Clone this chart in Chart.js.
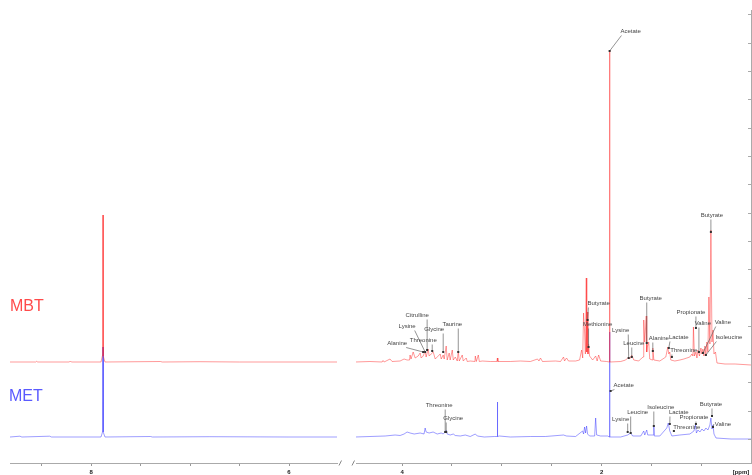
<!DOCTYPE html>
<html lang="en">
<head>
<meta charset="UTF-8" />
<title>1H NMR spectra - MBT / MET</title>
<script src="https://cdn.jsdelivr.net/npm/chart.js"></script>
<style>
  body { margin: 0; background: #fff; }
  #wrap { position: relative; width: 752px; height: 475px; }
  #wrap canvas { position: absolute; left: 0; top: 0; }
</style>
</head>
<body>
<div id="wrap">
  <canvas id="left-panel" width="752" height="475"></canvas>
  <canvas id="right-panel" width="752" height="475"></canvas>
</div>
<script>
// chemical shift (ppm) and intensity above baseline
const mbtPpm = [
  8.82, 8.56, 8.55, 8.54, 8.22, 8.21, 8.2, 7.9, 7.882, 7.88, 7.878, 7.86, 7.3, 7.28, 6.9, 6.5, 5.5,
  4.472, 4.322, 4.2, 4.191, 4.18, 4.121, 4.1, 4.02, 3.98, 3.95, 3.925, 3.92, 3.91, 3.889, 3.869,
  3.839, 3.819, 3.809, 3.789, 3.769, 3.759, 3.739, 3.729, 3.709, 3.688, 3.668, 3.648, 3.618, 3.608,
  3.588, 3.578, 3.558, 3.548, 3.528, 3.518, 3.497, 3.487, 3.467, 3.447, 3.437, 3.427, 3.397, 3.387,
  3.357, 3.347, 3.317, 3.27, 3.266, 3.256, 3.236, 3.226, 3.196, 3.116, 3.05, 3.045, 3.04, 2.915,
  2.814, 2.714, 2.643, 2.628, 2.613, 2.593, 2.462, 2.412, 2.382, 2.372, 2.352, 2.332, 2.261, 2.221,
  2.201, 2.19, 2.181, 2.171, 2.163, 2.154, 2.149, 2.144, 2.137, 2.131, 2.121, 2.09, 2.06, 2.045,
  2.03, 2.01, 1.95, 1.922, 1.92, 1.918, 1.809, 1.759, 1.729, 1.719, 1.698, 1.678, 1.628, 1.598,
  1.583, 1.578, 1.568, 1.553, 1.548, 1.543, 1.528, 1.518, 1.492, 1.487, 1.477, 1.417, 1.357, 1.337,
  1.327, 1.317, 1.307, 1.266, 1.216, 1.176, 1.146, 1.116, 1.095, 1.085, 1.08, 1.07, 1.055, 1.045,
  1.035, 1.02, 1.005, 0.995, 0.985, 0.975, 0.965, 0.955, 0.945, 0.935, 0.925, 0.915, 0.905, 0.894,
  0.884, 0.874, 0.859, 0.844, 0.764, 0.663, 0.503
];
const mbtIntensity = [
  0, 0, 0.7, 0, 0, 1, 0, 0, 8, 147, 6, 0, 0.5, 0, 0.3, 0, 0,
  0, 0.5, 0, 1.5, 0, 3, 0.5, 1, 3, 2, 2, 7, 3, 10, 4,
  6, 9, 4, 6, 11, 5, 13, 6, 8, 10, 3, 5, 8, 3,
  7, 3, 16, 2, 9, 2, 12, 2, 5, 1, 11, 1, 7, 1,
  4, 0.5, 1, 0.5, 6, 0.5, 7, 0.5, 1, 0.5, 0.5, 4, 0.5, 0.5,
  1, 0.5, 3, 1, 4, 0.5, 1, 0.5, 5, 1, 4, 1, 1, 2,
  12, 4, 49, 30, 8, 84, 10, 50, 8, 18, 6, 2, 6, 1,
  7, 1, 0.5, 0, 312, 0, 0.5, 2, 5, 3, 7, 2, 1, 4,
  5, 42, 20, 46, 10, 15, 20, 3, 2, 14, 2, 1, 5, 15,
  8, 10, 2, 1, 2, 3, 4, 5, 8, 6, 35, 6, 10, 4,
  12, 6, 14, 8, 13, 6, 16, 8, 20, 10, 65, 18, 132, 20,
  32, 8, 10, -1, -2, -2, -3
];

const metPpm = [
  8.82, 8.72, 8.7, 8.42, 8.4, 7.9, 7.882, 7.88, 7.878, 7.86, 7.4, 7.38, 6.8, 6.0, 5.5,
  4.472, 4.322, 4.17, 4.07, 4.02, 3.98, 3.95, 3.92, 3.879, 3.819, 3.78, 3.769, 3.759, 3.729,
  3.689, 3.648, 3.608, 3.588, 3.568, 3.558, 3.548, 3.518, 3.487, 3.467, 3.417, 3.367, 3.317,
  3.266, 3.246, 3.176, 3.076, 3.048, 3.045, 3.042, 3.025, 2.915, 2.714, 2.563, 2.382, 2.352,
  2.261, 2.191, 2.181, 2.171, 2.161, 2.151, 2.141, 2.121, 2.07, 2.06, 2.05, 2.01, 1.94, 1.922,
  1.92, 1.918, 1.809, 1.739, 1.709, 1.689, 1.608, 1.578, 1.568, 1.548, 1.538, 1.482, 1.477,
  1.472, 1.417, 1.347, 1.332, 1.317, 1.296, 1.216, 1.116, 1.075, 1.06, 1.05, 1.035, 1.015,
  0.995, 0.975, 0.955, 0.935, 0.915, 0.905, 0.894, 0.884, 0.874, 0.854, 0.703, 0.503
];
const metIntensity = [
  0, 0.8, 0, 0.8, 0, 0, 6, 90, 5, 0, 0.5, 0, 0.3, 0, 0,
  0, 0.5, 1, 2, 1.5, 3, 5, 4, 3, 4, 3, 9, 5, 4,
  5, 3, 4, 3, 5, 7, 3, 2, 3, 1.5, 1, 2, 0.5,
  3, 1, 0, 0.5, 0.5, 35, 0.5, 1, 0, 0.5, 0.5, 2, 1,
  0.5, 6, 3, 10, 4, 11, 3, 1, 1, 19, 2, 1, 1, 0,
  105, 0, 0, 2, 4, 1, 1, 6, 2, 7, 2, 2, 11,
  1, 1, 9, 14, 6, 1, 2, 3, 6, 12, 4, 7, 5,
  8, 6, 9, 7, 12, 19, 8, 12, 3, -1, -2, -2
];

// stacked display: baseline level of each spectrum
const mbtBaseline = 77;
const metBaseline = 2;

// assigned metabolites: name, shift, level pointed at
const mbtPeakNames = ['Acetate', 'Butyrate', 'Citrulline', 'Lysine', 'Glycine', 'Taurine', 'Threonine',
  'Alanine', 'Butyrate', 'Methionine', 'Lysine', 'Leucine', 'Butyrate', 'Alanine', 'Lactate',
  'Threonine', 'Propionate', 'Valine', 'Valine', 'Isoleucine'];
const mbtPeakPpm = [1.92, 0.905, 3.749, 3.769, 3.588, 3.437, 3.698, 3.789, 2.141, 2.131, 1.729, 1.698,
  1.548, 1.487, 1.327, 1.296, 1.055, 1.025, 0.985, 0.955];
const mbtPeakLevel = [388, 207, 89, 87, 87, 87, 88, 87, 119, 92, 81, 82, 96, 88, 91, 82, 111, 87, 86, 84];

const metPeakNames = ['Threonine', 'Glycine', 'Acetate', 'Lysine', 'Leucine', 'Isoleucine', 'Lactate',
  'Threonine', 'Propionate', 'Butyrate', 'Valine'];
const metPeakPpm = [3.568, 3.558, 1.91, 1.739, 1.709, 1.477, 1.317, 1.276, 1.055, 0.894, 0.884];
const metPeakLevel = [7, 7, 48, 7, 6, 13, 15, 8, 15, 23, 12];

// label placement relative to the peak (px)
const mbtLabelOffset = [[21, -20], [1, -17], [-10, -35], [-18, -26], [-9, -23], [-6, -28], [-9, -11],
  [-26, -9], [11, -17], [9, -23], [-8, -28], [2, -14], [4, -45], [6, -13], [10, -11], [12, -7],
  [-5, -16], [4, -29], [20, -31], [23, -18]];
const metLabelOffset = [[-6, -27], [7, -14], [13, -6], [-7, -13], [7, -21], [7, -19], [9, -12],
  [13, -4], [-2, -7], [-1, -12], [10, -3]];

const yMin = -24, yMax = 429, yTickStep = 28.3;
const FONT = '"Liberation Sans", Arial, sans-serif';
Chart.defaults.font.family = FONT;

function series(ppm, intensity, base) {
  return ppm.map((p, i) => ({ x: p, y: base + intensity[i] }));
}

function datasets() {
  return [
    { label: 'MBT', data: series(mbtPpm, mbtIntensity, mbtBaseline),
      borderColor: 'rgba(255, 30, 30, 0.45)', borderWidth: 1, borderJoinStyle: 'bevel',
      pointRadius: 0, tension: 0 },
    { label: 'MET', data: series(metPpm, metIntensity, metBaseline),
      borderColor: 'rgba(40, 40, 255, 0.45)', borderWidth: 1, borderJoinStyle: 'bevel',
      pointRadius: 0, tension: 0 }
  ];
}

function xScale(min, max) {
  return {
    type: 'linear', reverse: true, min: min, max: max,
    afterFit: (s) => { s.height = 12; },
    grid: { drawOnChartArea: false, drawTicks: true, tickLength: 3, color: '#999' },
    border: { display: true, color: '#aaa' },
    ticks: {
      stepSize: 0.5, includeBounds: false, autoSkip: false, maxRotation: 0, padding: 3,
      color: '#222', font: { size: 6, weight: 'bold' },
      callback: (v) => (v % 2 === 0 ? String(v) : '')
    }
  };
}

function baseOptions(padding, xmin, xmax) {
  return {
    responsive: false, animation: false, devicePixelRatio: 1,
    layout: { padding: padding },
    plugins: { legend: { display: false }, tooltip: { enabled: false } },
    scales: {
      x: xScale(xmin, xmax),
      y: { display: false, min: yMin, max: yMax }
    }
  };
}

function drawPeakLabels(ctx, xs, ys, names, ppm, level, offsets) {
  ctx.font = '6px ' + FONT;
  ctx.textAlign = 'center';
  ctx.textBaseline = 'middle';
  names.forEach((name, i) => {
    const tx = xs.getPixelForValue(ppm[i]);
    const ty = ys.getPixelForValue(level[i]);
    const lx = tx + offsets[i][0], ly = ty + offsets[i][1];
    const w = ctx.measureText(name).width;
    const left = lx - w / 2, right = lx + w / 2, top = ly - 3.5, bottom = ly + 3.5;
    let sx, sy;
    if (ty > bottom) { sx = Math.min(Math.max(tx, left + 1), right - 1); sy = bottom + 1; }
    else if (ty < top) { sx = Math.min(Math.max(tx, left + 1), right - 1); sy = top - 1; }
    else { sx = tx < lx ? left - 1 : right + 1; sy = ly; }
    ctx.strokeStyle = '#666';
    ctx.lineWidth = 0.7;
    ctx.beginPath();
    ctx.moveTo(sx, sy);
    ctx.lineTo(tx, ty);
    ctx.stroke();
    ctx.fillStyle = '#333';
    ctx.fillRect(tx - 1, ty - 1, 2, 2);
    ctx.fillStyle = '#444';
    ctx.fillText(name, lx, ly);
  });
}

const overlay = {
  id: 'overlay',
  afterDraw(chart) {
    const ctx = chart.ctx, xs = chart.scales.x, ys = chart.scales.y, area = chart.chartArea;
    ctx.save();
    // intensity axis on the right
    ctx.strokeStyle = '#aaa';
    ctx.lineWidth = 1;
    ctx.beginPath();
    ctx.moveTo(area.right + 0.5, area.top);
    ctx.lineTo(area.right + 0.5, area.bottom);
    for (let v = 0; v <= yMax; v += yTickStep) {
      const py = Math.round(ys.getPixelForValue(v)) + 0.5;
      ctx.moveTo(area.right, py);
      ctx.lineTo(area.right - 3, py);
    }
    ctx.stroke();
    // axis break marks
    ctx.strokeStyle = '#888';
    ctx.beginPath();
    ctx.moveTo(339, 465.5); ctx.lineTo(341.5, 460.5);
    ctx.moveTo(352, 465.5); ctx.lineTo(354.5, 460.5);
    ctx.stroke();
    // unit
    ctx.fillStyle = '#222';
    ctx.font = 'bold 6px ' + FONT;
    ctx.textAlign = 'center';
    ctx.textBaseline = 'middle';
    ctx.fillText('[ppm]', 741, 472);
    // sample names
    ctx.font = '16px ' + FONT;
    ctx.textAlign = 'left';
    ctx.fillStyle = '#ff4a4a';
    ctx.fillText('MBT', 10, 307);
    ctx.fillStyle = '#5a5aff';
    ctx.fillText('MET', 9, 397);
    drawPeakLabels(ctx, xs, ys, mbtPeakNames, mbtPeakPpm, mbtPeakLevel, mbtLabelOffset);
    drawPeakLabels(ctx, xs, ys, metPeakNames, metPeakPpm, metPeakLevel, metLabelOffset);
    ctx.restore();
  }
};

new Chart(document.getElementById('left-panel'), {
  type: 'line',
  data: { datasets: datasets() },
  options: baseOptions({ left: 10, right: 415, top: 10, bottom: 0 }, 5.515, 8.82)
});

new Chart(document.getElementById('right-panel'), {
  type: 'line',
  data: { datasets: datasets() },
  options: baseOptions({ left: 356, right: 1, top: 10, bottom: 0 }, 0.503, 4.462),
  plugins: [overlay]
});
</script>
</body>
</html>
